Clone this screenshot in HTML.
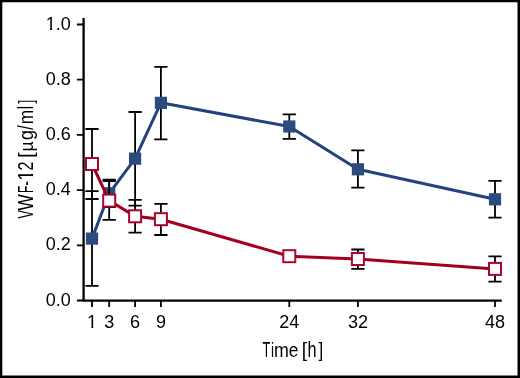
<!DOCTYPE html>
<html><head><meta charset="utf-8"><style>
html,body{margin:0;padding:0;background:#fff;}
body{width:520px;height:378px;overflow:hidden;font-family:"Liberation Sans",sans-serif;}
svg{display:block;will-change:transform;}
</style></head><body>
<svg width="520" height="378" viewBox="0 0 520 378" font-family="Liberation Sans, sans-serif">
<rect x="0" y="0" width="520" height="378" fill="#fff"/>
<path d="M83.6 17.9V301.0" stroke="#000" stroke-width="2.3" fill="none"/><path d="M82.5 300.6H501.8" stroke="#000" stroke-width="2.1" fill="none"/><path d="M76.9 300.50H83.6M76.9 245.30H83.6M76.9 190.10H83.6M76.9 134.90H83.6M76.9 79.70H83.6M76.9 24.50H83.6M92.00 300.6V307M109.20 300.6V307M135.10 300.6V307M160.90 300.6V307M289.30 300.6V307M357.90 300.6V307M495.00 300.6V307" stroke="#000" stroke-width="1.8" fill="none"/>
<path d="M92.00 191.10V285.80M85.40 191.10H98.60M85.40 285.80H98.60M109.20 179.60V207.00M102.60 179.60H115.80M102.60 207.00H115.80M135.10 112.00V205.60M128.50 112.00H141.70M128.50 205.60H141.70M160.90 66.85V139.30M154.30 66.85H167.50M154.30 139.30H167.50M289.30 114.30V138.90M282.70 114.30H295.90M282.70 138.90H295.90M357.90 150.30V187.60M351.30 150.30H364.50M351.30 187.60H364.50M495.00 180.80V217.60M488.40 180.80H501.60M488.40 217.60H501.60" stroke="#000" stroke-width="1.8" fill="none"/>
<polyline points="92.00,238.60 109.20,193.30 135.10,158.65 160.90,102.85 289.30,126.50 357.90,169.30 495.00,199.30" fill="none" stroke="#23427e" stroke-width="3.0" stroke-linejoin="round"/>
<g fill="#2d4b7e"><rect x="85.90" y="232.50" width="12.2" height="12.2"/><rect x="103.10" y="187.20" width="12.2" height="12.2"/><rect x="129.00" y="152.55" width="12.2" height="12.2"/><rect x="154.80" y="96.75" width="12.2" height="12.2"/><rect x="283.20" y="120.40" width="12.2" height="12.2"/><rect x="351.80" y="163.20" width="12.2" height="12.2"/><rect x="488.90" y="193.20" width="12.2" height="12.2"/></g>
<path d="M92.00 129.00V199.00M85.40 129.00H98.60M85.40 199.00H98.60M109.20 181.00V219.80M102.60 181.00H115.80M102.60 219.80H115.80M135.10 199.90V232.60M128.50 199.90H141.70M128.50 232.60H141.70M160.90 203.90V235.00M154.30 203.90H167.50M154.30 235.00H167.50M357.90 249.50V268.80M351.30 249.50H364.50M351.30 268.80H364.50M495.00 256.30V281.70M488.40 256.30H501.60M488.40 281.70H501.60" stroke="#000" stroke-width="1.8" fill="none"/>
<polyline points="92.00,164.00 109.20,200.60 135.10,216.30 160.90,219.20 289.30,256.20 357.90,259.00 495.00,268.90" fill="none" stroke="#a3001f" stroke-width="3.0" stroke-linejoin="round"/>
<g fill="#fff" stroke="#a8062c" stroke-width="2"><rect x="86.00" y="158.00" width="12.0" height="12.0"/><rect x="103.20" y="194.60" width="12.0" height="12.0"/><rect x="129.10" y="210.30" width="12.0" height="12.0"/><rect x="154.90" y="213.20" width="12.0" height="12.0"/><rect x="283.30" y="250.20" width="12.0" height="12.0"/><rect x="351.90" y="253.00" width="12.0" height="12.0"/><rect x="489.00" y="262.90" width="12.0" height="12.0"/></g>
<g font-size="18.0" fill="#000"><text x="45.78" y="305.60">0.0</text><text x="45.78" y="250.40">0.2</text><text x="45.78" y="195.20">0.4</text><text x="45.78" y="140.00">0.6</text><text x="45.78" y="84.80">0.8</text><text x="45.78" y="29.60">1.0</text><text x="86.99" y="328.2">1</text><text x="104.19" y="328.2">3</text><text x="130.09" y="328.2">6</text><text x="155.89" y="328.2">9</text><text x="279.29" y="328.2">24</text><text x="347.89" y="328.2">32</text><text x="484.99" y="328.2">48</text></g><g fill="#fff"><rect x="46.25" y="27.26" width="3.86" height="3.04"/><rect x="52.09" y="27.26" width="3.71" height="3.04"/><rect x="87.47" y="325.86" width="3.86" height="3.04"/><rect x="93.31" y="325.86" width="3.71" height="3.04"/></g>
<text font-size="21.7" transform="translate(0 357.2)" y="0"><tspan x="262.46" textLength="7.83" lengthAdjust="spacingAndGlyphs">T</tspan><tspan x="270.99" font-size="19.5" textLength="3.03" lengthAdjust="spacingAndGlyphs">i</tspan><tspan x="274.07" font-size="19.5" textLength="14.86" lengthAdjust="spacingAndGlyphs">m</tspan><tspan x="288.67" font-size="19.7" textLength="9.60" lengthAdjust="spacingAndGlyphs">e</tspan><tspan> </tspan><tspan x="301.74" font-size="20.0" textLength="5.31" lengthAdjust="spacingAndGlyphs">[</tspan><tspan x="307.62" textLength="9.03" lengthAdjust="spacingAndGlyphs">h</tspan><tspan x="318.62" font-size="20.0" textLength="4.68" lengthAdjust="spacingAndGlyphs">]</tspan></text><g transform="translate(33 0) rotate(-90)"><text font-size="21.7" y="0"><tspan x="-218.55" textLength="8.31" lengthAdjust="spacingAndGlyphs">V</tspan><tspan x="-210.58" textLength="16.23" lengthAdjust="spacingAndGlyphs">W</tspan><tspan x="-193.07" textLength="7.25" lengthAdjust="spacingAndGlyphs">F</tspan><tspan x="-185.58" textLength="4.36" lengthAdjust="spacingAndGlyphs">-</tspan><tspan x="-180.76" textLength="10.73" lengthAdjust="spacingAndGlyphs">1</tspan><tspan x="-170.41" textLength="8.91" lengthAdjust="spacingAndGlyphs">2</tspan><tspan> </tspan><tspan x="-158.13" font-size="20.0" textLength="5.59" lengthAdjust="spacingAndGlyphs">[</tspan><tspan x="-151.60" font-size="18.0" textLength="10.10" lengthAdjust="spacingAndGlyphs">µ</tspan><tspan x="-140.05" font-size="20.5" textLength="9.89" lengthAdjust="spacingAndGlyphs">g</tspan><tspan x="-129.80" textLength="4.60" lengthAdjust="spacingAndGlyphs">/</tspan><tspan x="-124.15" font-size="19.5" textLength="14.39" lengthAdjust="spacingAndGlyphs">m</tspan><tspan x="-109.20" textLength="3.29" lengthAdjust="spacingAndGlyphs">l</tspan><tspan x="-103.61" font-size="20.0" textLength="3.77" lengthAdjust="spacingAndGlyphs">]</tspan></text><g fill="#fff"><rect x="-180.39" y="-2.62" width="4.23" height="3.32"/><rect x="-173.95" y="-2.62" width="4.23" height="3.32"/></g></g>
<path d="M0 0H520V378H0ZM2.3 2.3V375.5H517.5V2.3Z" fill="#000" fill-rule="evenodd"/>
</svg>
</body></html>
